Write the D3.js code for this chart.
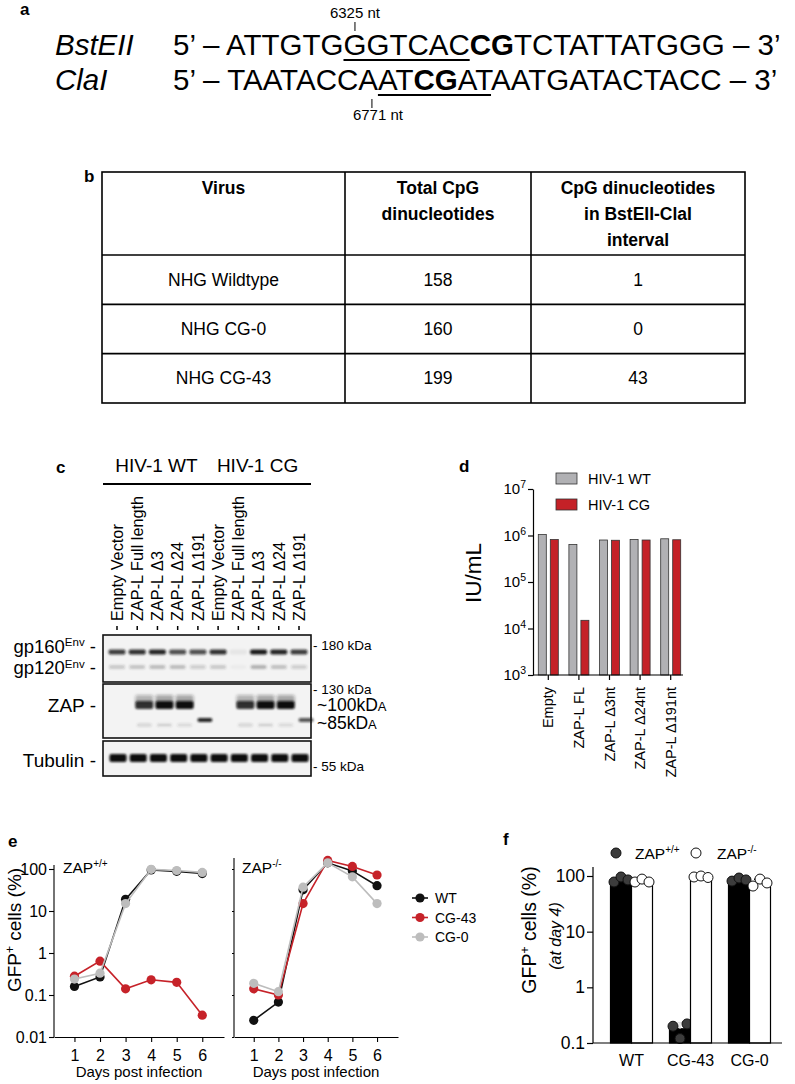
<!DOCTYPE html>
<html><head><meta charset="utf-8">
<script src="https://cdn.jsdelivr.net/npm/d3@7"></script>
<style>
body{margin:0;background:#fff;}
svg{display:block;font-family:"Liberation Sans",Arial,Helvetica,sans-serif;}
</style></head><body>
<svg id="fig" width="795" height="1084"></svg>
<script>
// ================= DATA =================
// panel a
const seqBstEII = [["5’ – ATTGTG","n"],["GGTCAC","u"],["CG","b"],["TCTATTATGGG – 3’","n"]];
const seqClaI = [["5’ – TAATACCA","n"],["AT","u"],["CG","ub"],["AT","u"],["AATGATACTACC – 3’","n"]];
const enzymeNames = ["BstEII","ClaI"];
const siteLabels = ["6325 nt","6771 nt"];
// panel b
const tableHeader = [["Virus"],["Total CpG","dinucleotides"],["CpG dinucleotides","in BstEII-ClaI","interval"]];
const tableViruses = ["NHG Wildtype","NHG CG-0","NHG CG-43"];
const tableTotalCpG = [158,160,199];
const tableIntervalCpG = [1,0,43];
// panel c
const laneGroups = ["HIV-1 WT","HIV-1 CG"];
const laneNames = ["Empty Vector","ZAP-L Full length","ZAP-L Δ3","ZAP-L Δ24","ZAP-L Δ191"];
const gp160Band = [0.80,0.85,0.90,0.72,0.72,0.85,0.06,0.95,0.90,0.80];
const gp120Band = [0.22,0.24,0.28,0.28,0.18,0.22,0.03,0.34,0.26,0.18];
const zap100Band = [0,0.85,1,1,0,0,0.85,1,1,0];
const zap85Band = [0,0,0,0,0.9,0,0,0,0,0.7];
const zapMinorBand = [0,0.18,0.2,0.15,0,0,0.18,0.2,0.15,0];
const tubulinBand = [1,1,1,1,1,1,1,1,1,1];
// panel d
const dCategories = ["Empty","ZAP-L FL","ZAP-L Δ3nt","ZAP-L Δ24nt","ZAP-L Δ191nt"];
const dSeries = ["HIV-1 WT","HIV-1 CG"];
const dWT = [1.05e6,6.4e5,8.0e5,8.2e5,8.5e5];
const dCG = [8.2e5,1.5e4,7.9e5,8.0e5,8.1e5];
const dTicks = [3,4,5,6,7];
// panel e
const days = [1,2,3,4,5,6];
const eSeries = ["WT","CG-43","CG-0"];
const eWT_pp   = [0.16,0.27,19,95,88,78];
const eCG43_pp = [0.28,0.64,0.14,0.23,0.20,0.033];
const eCG0_pp  = [0.24,0.33,15,98,92,83];
const eWT_mm   = [0.025,0.068,32,140,90,40];
const eCG43_mm = [0.14,0.10,15,160,115,72];
const eCG0_mm  = [0.19,0.12,37,140,65,15];
const eYTicks = [0.01,0.1,1,10,100];
// panel f
const fGroups = ["WT","CG-43","CG-0"];
const fPP = [[78,96,85],[0.20,0.12,0.22],[81,92,85]];
const fMM = [[78,88,78],[96,100,94],[66,88,75]];
const fYTicks = [0.1,1,10,100];

// ================= DRAW =================
const svg = d3.select("#fig");
const RED = "#c62229", GRAY = "#bdbdbd", BLK = "#111";

function letter(t,x,y){ svg.append("text").attr("x",x).attr("y",y).attr("font-weight","bold").attr("font-size",17).text(t); }
function supText(sel, base, sup, size, supSize, rise){
  sel.append("tspan").text(base);
  sel.append("tspan").attr("font-size",supSize).attr("dy",-rise).text(sup);
  return sel;
}

// ---------- panel a ----------
letter("a",20,15);
const aG = svg.append("g");
function seqLine(parts, y, name){
  aG.append("text").attr("x",55).attr("y",y).attr("font-size",29.5).attr("font-style","italic").text(name);
  const t = aG.append("text").attr("x",173).attr("y",y).attr("font-size",29.5);
  parts.forEach(([s,st])=>t.append("tspan").attr("font-weight",st.includes("b")?"bold":"normal").text(s));
  const node=t.node(); let idx=0; let x0=null,x1=null;
  parts.forEach(([s,st])=>{
    if(st.includes("u")){
      const a=node.getStartPositionOfChar(idx).x, b=node.getEndPositionOfChar(idx+s.length-1).x;
      if(x0===null) x0=a; x1=b;
    }
    idx+=s.length;
  });
  aG.append("line").attr("x1",x0).attr("x2",x1).attr("y1",y+5).attr("y2",y+5).attr("stroke","#000").attr("stroke-width",1.8);
  const firstW = node.getEndPositionOfChar(parts[0][0].length).x - x0;
  return {x0,x1,firstW};
}
const l1 = seqLine(seqBstEII,55,enzymeNames[0]);
const l2 = seqLine(seqClaI,90,enzymeNames[1]);
const t1x = l1.x0 + l1.firstW/2;
aG.append("line").attr("x1",t1x).attr("x2",t1x).attr("y1",22).attr("y2",31).attr("stroke","#000").attr("stroke-width",1);
aG.append("text").attr("x",t1x).attr("y",18).attr("text-anchor","middle").attr("font-size",15).text(siteLabels[0]);
const t2x = l2.x0 - 6;
aG.append("line").attr("x1",t2x).attr("x2",t2x).attr("y1",99).attr("y2",108).attr("stroke","#000").attr("stroke-width",1);
aG.append("text").attr("x",t2x+6).attr("y",120).attr("text-anchor","middle").attr("font-size",15).text(siteLabels[1]);

// ---------- panel b ----------
letter("b",84,182);
const bG = svg.append("g");
const colX = [102,345,531,745];
const rowY = d3.scaleBand().domain(tableViruses).range([255,403]);
const headTop = 172;
bG.append("rect").attr("x",colX[0]).attr("y",headTop).attr("width",colX[3]-colX[0]).attr("height",403-headTop)
  .attr("fill","none").attr("stroke","#000").attr("stroke-width",1.6);
[colX[1],colX[2]].forEach(x=>bG.append("line").attr("x1",x).attr("x2",x).attr("y1",headTop).attr("y2",403).attr("stroke","#000").attr("stroke-width",1.6));
tableViruses.forEach(v=>bG.append("line").attr("x1",colX[0]).attr("x2",colX[3]).attr("y1",rowY(v)).attr("y2",rowY(v)).attr("stroke","#000").attr("stroke-width",1.6));
tableHeader.forEach((lines,ci)=>{
  const cx=(colX[ci]+colX[ci+1])/2;
  const t=bG.append("text").attr("x",cx).attr("text-anchor","middle").attr("font-size",17.5).attr("font-weight","bold");
  lines.forEach((ln,li)=>t.append("tspan").attr("x",cx).attr("y",194+li*26).text(ln));
});
tableViruses.forEach((v,i)=>{
  const cy=rowY(v)+rowY.bandwidth()/2+6;
  [v,tableTotalCpG[i],tableIntervalCpG[i]].forEach((val,ci)=>{
    bG.append("text").attr("x",(colX[ci]+colX[ci+1])/2).attr("y",cy).attr("text-anchor","middle").attr("font-size",17.5).text(val);
  });
});

// ---------- panel c ----------
letter("c",56,473);
const cG = svg.append("g");
const defs = svg.append("defs");
defs.append("filter").attr("id","blur").attr("x","-50%").attr("y","-100%").attr("width","200%").attr("height","300%")
  .append("feGaussianBlur").attr("stdDeviation",1.1);
defs.append("filter").attr("id","blur2").attr("x","-50%").attr("y","-100%").attr("width","200%").attr("height","300%")
  .append("feGaussianBlur").attr("stdDeviation",1.8);
const lanes = d3.range(10);
const laneX = d3.scalePoint().domain(lanes).range([117,299]);
const allLaneNames = laneNames.concat(laneNames);
laneGroups.forEach((g,gi)=>{
  const ls = lanes.slice(gi*5,gi*5+5);
  const xa = laneX(ls[0])-14, xb = laneX(ls[4])+12;
  cG.append("text").attr("x",(xa+xb)/2).attr("y",472).attr("text-anchor","middle").attr("font-size",19).text(g);
  cG.append("line").attr("x1",xa).attr("x2",xb).attr("y1",484).attr("y2",484).attr("stroke","#000").attr("stroke-width",2);
});
lanes.forEach(i=>{
  const x=laneX(i);
  cG.append("text").attr("transform",`translate(${x+5.8},621) rotate(-90)`).attr("font-size",16.3).text(allLaneNames[i]);
  cG.append("line").attr("x1",x).attr("x2",x).attr("y1",626).attr("y2",630).attr("stroke","#000").attr("stroke-width",1.5);
});
const boxes = [[635,682],[684,738],[741,776]];
boxes.forEach(([y0,y1])=>cG.append("rect").attr("x",103).attr("y",y0).attr("width",208).attr("height",y1-y0)
  .attr("fill","#f3f3f3").attr("stroke","#111").attr("stroke-width",1.6));
function bands(vals, cy, h, w, dx, filt, color){
  cG.append("g").attr("filter",`url(#${filt})`).selectAll("rect").data(vals).join("rect")
    .attr("x",(d,i)=>laneX(i)+dx-w/2).attr("y",cy-h/2).attr("width",w).attr("height",h).attr("rx",2)
    .attr("fill",color).attr("opacity",d=>d);
}
bands(gp160Band,652,5,17,0,"blur","#111");
bands(gp120Band,667,4,16,0,"blur","#333");
bands(zap100Band.map(d=>d*0.35),699,8,18,7,"blur2","#222");
bands(zap100Band,705,8,18,7,"blur","#0a0a0a");
bands(zap85Band,720,4,15,7,"blur","#111");
bands(zapMinorBand,725,3,15,7,"blur","#444");
bands(tubulinBand,758,8,17,1,"blur","#0a0a0a");
// left labels
const lab = cG.append("g").attr("font-size",18.5).attr("text-anchor","end");
const g160 = lab.append("text").attr("x",96).attr("y",653);
supText(g160,"gp160","Env",18.5,11.5,7); g160.append("tspan").attr("dy",7).text(" -");
const g120 = lab.append("text").attr("x",96).attr("y",674);
supText(g120,"gp120","Env",18.5,11.5,6); g120.append("tspan").attr("dy",6).text(" -");
lab.append("text").attr("x",96).attr("y",712).attr("font-size",19).text("ZAP -");
lab.append("text").attr("x",96).attr("y",767).attr("font-size",19).text("Tubulin -");
// right markers
const rl = cG.append("g").attr("font-size",13.5);
rl.append("text").attr("x",313).attr("y",650).text("- 180 kDa");
rl.append("text").attr("x",313).attr("y",694).text("- 130 kDa");
rl.append("text").attr("x",313).attr("y",771).text("- 55 kDa");
const k100 = rl.append("text").attr("x",317).attr("y",711).attr("font-size",17.5);
k100.append("tspan").text("~100kD"); k100.append("tspan").attr("font-size",13).text("A");
const k85 = rl.append("text").attr("x",317).attr("y",729).attr("font-size",17.5);
k85.append("tspan").text("~85kD"); k85.append("tspan").attr("font-size",13).text("A");

// ---------- panel d ----------
letter("d",459,472);
const dG = svg.append("g");
const dy = d3.scaleLog().domain([1e3,1e7]).range([675,489]);
const dx = d3.scaleBand().domain(dCategories).range([533,686]);
const dColors = {[dSeries[0]]:"#b1b1b4",[dSeries[1]]:"#c42127"};
const dRows = dCategories.map((c,i)=>({c,vals:[dWT[i],dCG[i]]}));
dG.selectAll("g.grp").data(dRows).join("g").each(function(r){
  d3.select(this).selectAll("rect").data(r.vals).join("rect")
    .attr("x",(v,j)=>dx(r.c)+dx.bandwidth()/2-10+j*12).attr("width",8)
    .attr("y",v=>dy(v)).attr("height",v=>dy(1e3)-dy(v))
    .attr("fill",(v,j)=>dColors[dSeries[j]]).attr("stroke","#333").attr("stroke-width",0.8);
});
const dYAxis = dG.append("g").attr("transform","translate(533,0)")
  .call(d3.axisLeft(dy).tickValues(dTicks.map(p=>Math.pow(10,p))).tickSize(5).tickSizeOuter(0).tickFormat(""));
dYAxis.selectAll("path,line").attr("stroke","#000").attr("stroke-width",1.2);
dTicks.forEach(p=>{
  const t=dG.append("text").attr("x",526).attr("y",dy(Math.pow(10,p))+5).attr("text-anchor","end").attr("font-size",15);
  t.append("tspan").text("10"); t.append("tspan").attr("font-size",10.5).attr("dy",-6).text(p);
});
const dXAxis = dG.append("g").attr("transform","translate(0,675)")
  .call(d3.axisBottom(dx).tickSize(5).tickSizeOuter(0).tickFormat(""));
dXAxis.select("path").attr("d","M533,0H683");
dXAxis.selectAll("path,line").attr("stroke","#000").attr("stroke-width",1.2);
dCategories.forEach(c=>{
  const x=dx(c)+dx.bandwidth()/2;
  dG.append("text").attr("transform",`translate(${x+5},687) rotate(-90)`).attr("text-anchor","end").attr("font-size",14.5).text(c);
});
dG.append("text").attr("transform","translate(481,573) rotate(-90)").attr("text-anchor","middle").attr("font-size",22.5).text("IU/mL");
dSeries.forEach((s,i)=>{
  dG.append("rect").attr("x",556).attr("y",473+i*26).attr("width",21).attr("height",11).attr("fill",dColors[s]).attr("stroke","#333").attr("stroke-width",0.8);
  dG.append("text").attr("x",588).attr("y",484+i*26).attr("font-size",14.5).text(s);
});

// ---------- panel e ----------
letter("e",8,847);
const eG = svg.append("g");
const ey = d3.scaleLog().domain([0.01,100]).range([1037,869]);
const exL = d3.scaleLinear().domain([0.2,6.85]).range([54,224]);
const exR = d3.scaleLinear().domain([0.2,6.85]).range([234,398]);
const eColors = {"WT":BLK,"CG-43":RED,"CG-0":GRAY};
function ePanel(xs, data, showY, topVal, title){
  const g = eG.append("g");
  const xAx = g.append("g").attr("transform",`translate(0,${ey(0.01)})`)
    .call(d3.axisBottom(xs).tickValues(days).tickSize(5).tickSizeOuter(0).tickFormat(d3.format("d")));
  xAx.selectAll("path,line").attr("stroke","#000").attr("stroke-width",1.1);
  xAx.selectAll("text").attr("font-size",16).attr("fill","#000").attr("font-family",null).attr("dy","1.0em");
  const yAx = g.append("g").attr("transform",`translate(${xs.range()[0]},0)`)
    .call(d3.axisLeft(ey).tickValues(eYTicks).tickSize(showY?5:2).tickPadding(2).tickSizeOuter(0)
      .tickFormat(showY?(d=>d>=1?d3.format("d")(d):String(d)):""));
  yAx.select("path").attr("d",`M0,${ey(0.01)}V${ey(topVal)}`);
  yAx.selectAll("path,line").attr("stroke","#000").attr("stroke-width",1.1);
  yAx.selectAll("text").attr("font-size",16).attr("fill","#000").attr("font-family",null);
  const line = d3.line().x((d,i)=>xs(days[i])).y(d=>ey(d));
  data.forEach(([name,vals])=>{
    g.append("path").attr("d",line(vals)).attr("fill","none").attr("stroke",eColors[name]).attr("stroke-width",1.6);
    g.selectAll(null).data(vals).join("circle").attr("cx",(d,i)=>xs(days[i])).attr("cy",d=>ey(d)).attr("r",4.6).attr("fill",eColors[name]);
  });
  const tt = g.append("text").attr("x",xs.range()[0]+ (showY?9:8)).attr("y",873).attr("font-size",15.5);
  supText(tt,"ZAP",title,15.5,10,6);
  g.append("text").attr("x",(xs.range()[0]+xs.range()[1])/2).attr("y",1077).attr("text-anchor","middle").attr("font-size",15).text("Days post infection");
}
ePanel(exL,[["WT",eWT_pp],["CG-43",eCG43_pp],["CG-0",eCG0_pp]],true,124,"+/+");
ePanel(exR,[["WT",eWT_mm],["CG-43",eCG43_mm],["CG-0",eCG0_mm]],false,183,"-/-");
const eyl = eG.append("text").attr("transform","translate(21,930) rotate(-90)").attr("text-anchor","middle").attr("font-size",19);
supText(eyl,"GFP","+",19,12,7); eyl.append("tspan").attr("dy",7).text(" cells (%)");
eSeries.forEach((s,i)=>{
  const yy = 898+i*19.5;
  eG.append("line").attr("x1",412).attr("x2",428).attr("y1",yy).attr("y2",yy).attr("stroke",eColors[s]).attr("stroke-width",1.6);
  eG.append("circle").attr("cx",420).attr("cy",yy).attr("r",4.6).attr("fill",eColors[s]);
  eG.append("text").attr("x",435).attr("y",yy+5).attr("font-size",14).text(s);
});

// ---------- panel f ----------
letter("f",503,845);
const fG = svg.append("g");
const fy = d3.scaleLog().domain([0.1,100]).range([1043,876]);
const fx = d3.scaleBand().domain(fGroups).range([602,779]);
const bw = 21;
fGroups.forEach((g,i)=>{
  const c = fx(g)+fx.bandwidth()/2;
  [[fPP[i],-1],[fMM[i],1]].forEach(([vals,side])=>{
    const m = d3.mean(vals), sd = d3.deviation(vals);
    const x0 = side<0? c-bw : c;
    fG.append("rect").attr("x",x0).attr("y",fy(m)).attr("width",bw).attr("height",fy(0.1)-fy(m))
      .attr("fill",side<0?"#000":"#fff").attr("stroke","#000").attr("stroke-width",1.2);
    const ec = side<0? "#e0e0e0":"#000";
    const xm = x0+bw/2;
    fG.append("line").attr("x1",xm).attr("x2",xm).attr("y1",fy(m)).attr("y2",fy(m+sd)).attr("stroke",ec).attr("stroke-width",1.4);
    fG.append("line").attr("x1",xm-6).attr("x2",xm+6).attr("y1",fy(m+sd)).attr("y2",fy(m+sd)).attr("stroke",ec).attr("stroke-width",1.4);
    vals.forEach((v,k)=>{
      fG.append("circle").attr("cx",xm+(k-1)*7).attr("cy",fy(v)).attr("r",5)
        .attr("fill",side<0?"#3c3c3c":"#fff").attr("stroke","#111").attr("stroke-width",1);
    });
  });
});
const fYAx = fG.append("g").attr("transform","translate(593,0)")
  .call(d3.axisLeft(fy).tickValues(fYTicks).tickSize(6).tickPadding(2).tickSizeOuter(0).tickFormat(d=>d>=1?d3.format("d")(d):String(d)));
fYAx.select("path").attr("d",`M0,${fy(0.1)}V${fy(145)}`);
fYAx.selectAll("path,line").attr("stroke","#000").attr("stroke-width",1.2);
fYAx.selectAll("text").attr("font-size",17.5).attr("fill","#000").attr("font-family",null);
const fXAx = fG.append("g").attr("transform",`translate(0,${fy(0.1)})`)
  .call(d3.axisBottom(fx).tickSize(0).tickSizeOuter(0));
fXAx.select("path").attr("d","M593,0H782");
fXAx.selectAll("path").attr("stroke","#000").attr("stroke-width",1.2);
fXAx.selectAll("text").attr("font-size",16).attr("fill","#000").attr("font-family",null).attr("dy","1.25em");
const fyl = fG.append("text").attr("transform","translate(536,930) rotate(-90)").attr("text-anchor","middle").attr("font-size",19.5);
supText(fyl,"GFP","+",19.5,12,7); fyl.append("tspan").attr("dy",7).text(" cells (%)");
fG.append("text").attr("transform","translate(561,936) rotate(-90)").attr("text-anchor","middle").attr("font-size",16).attr("font-style","italic").text("(at day 4)");
fG.append("circle").attr("cx",616).attr("cy",853).attr("r",5).attr("fill","#3c3c3c").attr("stroke","#111");
supText(fG.append("text").attr("x",635).attr("y",859).attr("font-size",15.5),"ZAP","+/+",15.5,10,6);
fG.append("circle").attr("cx",696).attr("cy",853).attr("r",5).attr("fill","#fff").attr("stroke","#111");
supText(fG.append("text").attr("x",717).attr("y",859).attr("font-size",15.5),"ZAP","-/-",15.5,10,6);
</script>
</body></html>
